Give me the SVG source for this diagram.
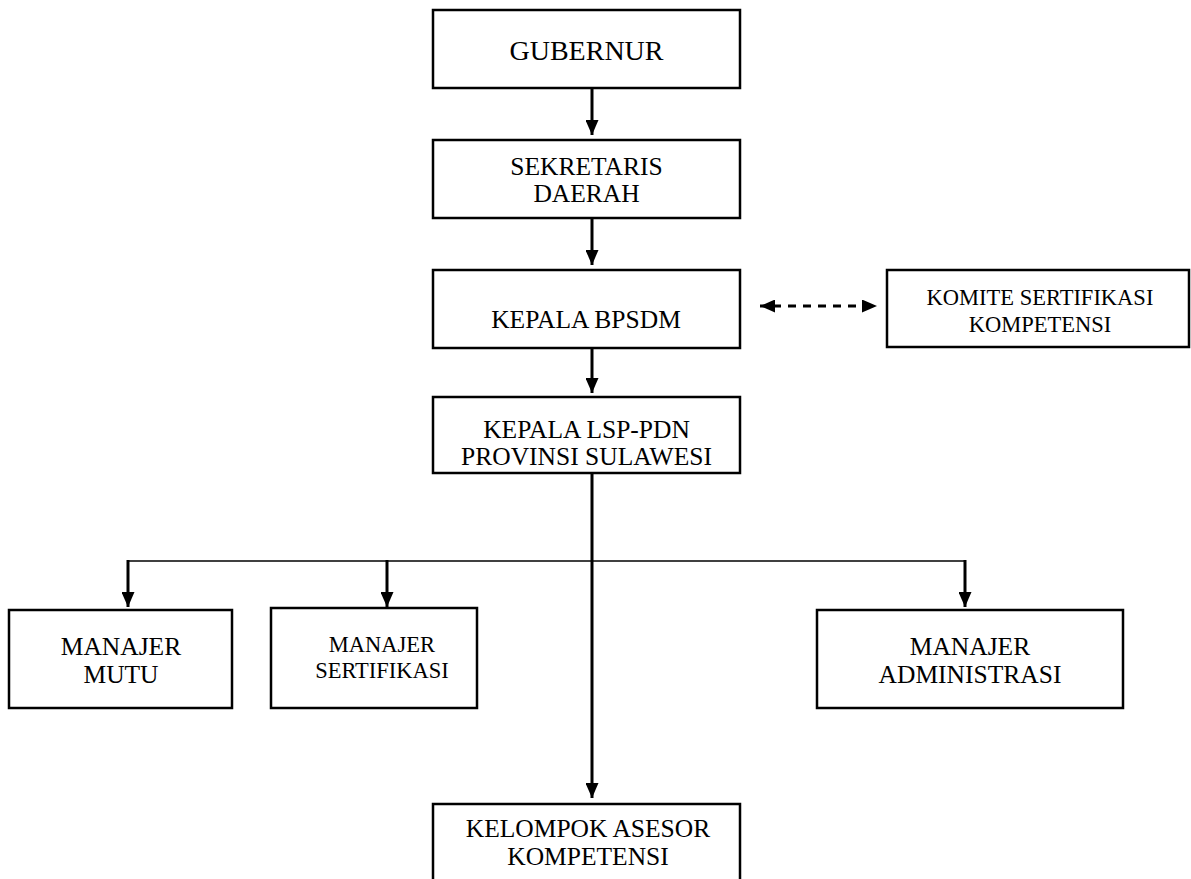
<svg xmlns="http://www.w3.org/2000/svg" width="1191" height="879" viewBox="0 0 1191 879">
<style>
.box{fill:#fff;stroke:#000;stroke-width:2.5}
.t{font-family:"Liberation Serif","Times New Roman",serif;font-size:25.5px;fill:#000;text-anchor:middle}
.s{font-size:22.5px}
.c{fill:none;stroke:#000;stroke-width:3}
.h{fill:none;stroke:#000;stroke-width:1.5}
.d{fill:none;stroke:#000;stroke-width:3;stroke-dasharray:8 7;stroke-dashoffset:2}
</style>
<defs>
<marker id="ah" markerUnits="userSpaceOnUse" markerWidth="15" markerHeight="13" refX="15" refY="6.5" orient="auto-start-reverse">
<path d="M0,0 L15,6.5 L0,13 z" fill="#000"/>
</marker>
</defs>
<g id="connectors">
<line class="c" x1="592" y1="88" x2="592" y2="135" marker-end="url(#ah)"/>
<line class="c" x1="592" y1="218" x2="592" y2="265" marker-end="url(#ah)"/>
<line class="c" x1="592" y1="348" x2="592" y2="393" marker-end="url(#ah)"/>
<line class="d" x1="760" y1="306" x2="877" y2="306" marker-start="url(#ah)" marker-end="url(#ah)"/>
<line class="c" x1="592" y1="473" x2="592" y2="798" marker-end="url(#ah)"/>
<line class="h" x1="128" y1="561" x2="965" y2="561"/>
<line class="c" x1="128" y1="560" x2="128" y2="607" marker-end="url(#ah)"/>
<line class="c" x1="387" y1="560" x2="387" y2="607" marker-end="url(#ah)"/>
<line class="c" x1="965" y1="560" x2="965" y2="607" marker-end="url(#ah)"/>
</g>
<g id="gubernur">
<rect class="box" x="433" y="10" width="307" height="78"/>
<text class="t" x="586.5" y="60" style="font-size:28px">GUBERNUR</text>
</g>
<g id="sekda">
<rect class="box" x="433" y="140" width="307" height="78"/>
<text class="t" x="586.5" y="175">SEKRETARIS</text>
<text class="t" x="586.5" y="202">DAERAH</text>
</g>
<g id="bpsdm">
<rect class="box" x="433" y="270" width="307" height="78"/>
<text class="t" x="586" y="328">KEPALA BPSDM</text>
</g>
<g id="komite">
<rect class="box" x="887" y="270" width="302" height="77"/>
<text class="t s" x="1040" y="305">KOMITE SERTIFIKASI</text>
<text class="t s" x="1040" y="332">KOMPETENSI</text>
</g>
<g id="lsp">
<rect class="box" x="433" y="397" width="307" height="76"/>
<text class="t" x="586.5" y="438">KEPALA LSP-PDN</text>
<text class="t" x="586.5" y="465">PROVINSI SULAWESI</text>
</g>
<g id="mutu">
<rect class="box" x="9" y="610" width="223" height="98"/>
<text class="t" x="121" y="655">MANAJER</text>
<text class="t" x="121" y="683">MUTU</text>
</g>
<g id="sertifikasi">
<rect class="box" x="271" y="608" width="206" height="100"/>
<text class="t s" x="382" y="652">MANAJER</text>
<text class="t s" x="382" y="678">SERTIFIKASI</text>
</g>
<g id="administrasi">
<rect class="box" x="817" y="610" width="306" height="98"/>
<text class="t" x="970" y="655">MANAJER</text>
<text class="t" x="970" y="683">ADMINISTRASI</text>
</g>
<g id="kelompok">
<rect class="box" x="433" y="804" width="307" height="100"/>
<text class="t" x="588" y="837">KELOMPOK ASESOR</text>
<text class="t" x="588" y="865">KOMPETENSI</text>
</g>
</svg>
